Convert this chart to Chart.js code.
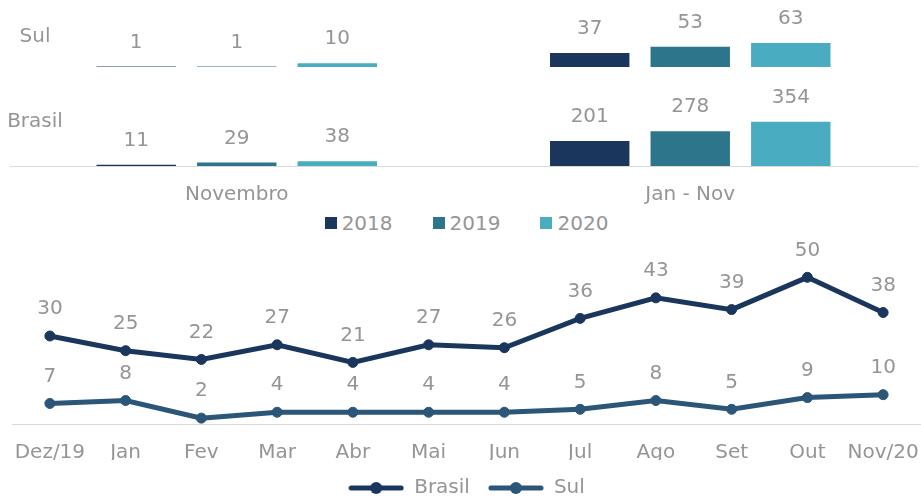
<!DOCTYPE html>
<html lang="pt-BR">
<head>
<meta charset="utf-8">
<title>Sul x Brasil</title>
<script src="https://cdn.jsdelivr.net/npm/chart.js@4.4.1/dist/chart.umd.min.js"></script>
<style>
  html, body { margin: 0; padding: 0; background: #fff; overflow: hidden; }
  body { position: relative; width: 921px; height: 497px; font-family: 'DejaVu Sans', sans-serif; }
  #bars  { position: absolute; left: 0; top: 0; }
  #line  { position: absolute; left: 0; top: 240px; }
  #bar-legend {
    position: absolute; left: 6px; top: 211px; width: 921px; height: 24px;
    display: flex; justify-content: center; align-items: center; gap: 40px;
    color: #959595; font-size: 20px;
  }
  #bar-legend span.item { display: flex; align-items: center; gap: 5px; }
  #bar-legend span.sw { display: inline-block; width: 12px; height: 12px; }
</style>
</head>
<body>
<canvas id="bars" width="921" height="205"></canvas>
<div id="bar-legend"></div>
<canvas id="line" width="921" height="268"></canvas>

<script>
/* ── Data ─────────────────────────────────────────────────────────────── */

var periods    = ['Novembro', 'Jan - Nov'];
var years      = ['2018', '2019', '2020'];
var yearColors = ['#1b365d', '#2c758a', '#49acc1'];

// values per year: [Novembro, Jan - Nov]
var sul2018    = [1, 37];
var sul2019    = [1, 53];
var sul2020    = [10, 63];
var brasil2018 = [11, 201];
var brasil2019 = [29, 278];
var brasil2020 = [38, 354];

var months         = ['Dez/19', 'Jan', 'Fev', 'Mar', 'Abr', 'Mai', 'Jun', 'Jul', 'Ago', 'Set', 'Out', 'Nov/20'];
var brasilMonthly  = [30, 25, 22, 27, 21, 27, 26, 36, 43, 39, 50, 38];
var sulMonthly     = [7, 8, 2, 4, 4, 4, 4, 5, 8, 5, 9, 10];

/* ── Shared look ──────────────────────────────────────────────────────── */

var TEXT  = '#959595';
var FONT  = { family: "'DejaVu Sans', sans-serif", size: 20 };
var AXIS  = '#d9d9d9';

Chart.defaults.font.family = FONT.family;
Chart.defaults.color = TEXT;

// Value labels drawn above every bar / point
var valueLabels = {
  id: 'valueLabels',
  afterDatasetsDraw: function (chart, args, opts) {
    var ctx = chart.ctx;
    ctx.save();
    ctx.font = FONT.size + 'px ' + FONT.family;
    ctx.fillStyle = TEXT;
    ctx.textAlign = 'center';
    ctx.textBaseline = 'middle';
    chart.data.datasets.forEach(function (ds, i) {
      var meta = chart.getDatasetMeta(i);
      if (meta.hidden) return;
      meta.data.forEach(function (el, j) {
        ctx.fillText(String(ds.data[j]), el.x, el.y - opts.offset);
      });
    });
    ctx.restore();
  }
};

// "Sul" / "Brasil" row captions beside the stacked value axes
var rowLabels = {
  id: 'rowLabels',
  afterDraw: function (chart) {
    var ctx = chart.ctx;
    ctx.save();
    ctx.font = FONT.size + 'px ' + FONT.family;
    ctx.fillStyle = TEXT;
    ctx.textAlign = 'center';
    ctx.textBaseline = 'middle';
    [['ySul', 'Sul'], ['yBrasil', 'Brasil']].forEach(function (r) {
      var s = chart.scales[r[0]];
      ctx.fillText(r[1], 35, s.top + (s.bottom - s.top) * 0.55);
    });
    ctx.restore();
  }
};

/* ── Top: Novembro / Jan - Nov bars ───────────────────────────────────── */

function barSet(idx, data, axis) {
  return {
    label: years[idx],
    data: data,
    yAxisID: axis,
    stack: 'g' + years[idx],
    backgroundColor: yearColors[idx],
    categoryPercentage: 0.665,
    barPercentage: 0.79
  };
}

new Chart(document.getElementById('bars'), {
  type: 'bar',
  data: {
    labels: periods,
    datasets: [
      barSet(0, sul2018, 'ySul'),
      barSet(1, sul2019, 'ySul'),
      barSet(2, sul2020, 'ySul'),
      barSet(0, brasil2018, 'yBrasil'),
      barSet(1, brasil2019, 'yBrasil'),
      barSet(2, brasil2020, 'yBrasil')
    ]
  },
  options: {
    responsive: false,
    animation: false,
    layout: { autoPadding: false, padding: { left: 10, right: 4, top: 0, bottom: 0 } },
    plugins: {
      legend: { display: false },
      tooltip: { enabled: false },
      valueLabels: { offset: 24 }
    },
    scales: {
      x: {
        grid: { display: false, drawTicks: false },
        border: { color: AXIS, width: 1 },
        ticks: { color: TEXT, font: FONT, padding: 17, maxRotation: 0 },
        afterFit: function (scale) {
          scale.height = 39;
          scale.paddingLeft = 0;
          scale.paddingRight = 0;
        }
      },
      yBrasil: {
        position: 'left', stack: 'rows', stackWeight: 99,
        min: 0, max: 792, stacked: false, display: false
      },
      ySul: {
        position: 'left', stack: 'rows', stackWeight: 67,
        min: 0, max: 176, stacked: false, display: false
      }
    }
  },
  plugins: [valueLabels, rowLabels]
});

// Year legend for the bar panel
var legendEl = document.getElementById('bar-legend');
years.forEach(function (y, i) {
  legendEl.innerHTML +=
    '<span class="item"><span class="sw" style="background:' + yearColors[i] + '"></span>' + y + '</span>';
});

/* ── Bottom: monthly line chart ───────────────────────────────────────── */

var BRASIL_COLOR = '#1b365d';
var SUL_COLOR    = '#2b5677';

function legendMarker(color) {
  var c = document.createElement('canvas');
  c.width = 56; c.height = 14;
  var g = c.getContext('2d');
  g.strokeStyle = color; g.lineWidth = 5; g.lineCap = 'round';
  g.beginPath(); g.moveTo(3, 7); g.lineTo(53, 7); g.stroke();
  g.fillStyle = color;
  g.beginPath(); g.arc(28, 7, 6, 0, Math.PI * 2); g.fill();
  return c;
}

function lineSet(label, data, color) {
  return {
    label: label,
    data: data,
    borderColor: color,
    backgroundColor: color,
    pointBackgroundColor: color,
    pointBorderColor: color,
    borderWidth: 5,
    pointRadius: 5,
    pointBorderWidth: 1,
    tension: 0
  };
}

new Chart(document.getElementById('line'), {
  type: 'line',
  data: {
    labels: months,
    datasets: [
      lineSet('Brasil', brasilMonthly, BRASIL_COLOR),
      lineSet('Sul', sulMonthly, SUL_COLOR)
    ]
  },
  options: {
    responsive: false,
    animation: false,
    layout: { autoPadding: false, padding: { left: 12, right: 0, top: 8, bottom: 0 } },
    plugins: {
      tooltip: { enabled: false },
      valueLabels: { offset: 27 },
      legend: {
        position: 'bottom',
        labels: {
          color: TEXT,
          font: FONT,
          padding: 18,
          usePointStyle: true,
          pointStyleWidth: 56,
          boxHeight: 14,
          generateLabels: function (chart) {
            var items = Chart.defaults.plugins.legend.labels.generateLabels(chart);
            items.forEach(function (it, i) {
              it.pointStyle = legendMarker(chart.data.datasets[i].borderColor);
            });
            return items;
          }
        }
      }
    },
    scales: {
      x: {
        offset: true,
        grid: { display: false, drawTicks: false },
        border: { color: AXIS, width: 1 },
        ticks: { color: TEXT, font: FONT, padding: 17, maxRotation: 0, autoSkip: false },
        afterFit: function (scale) {
          scale.height = 36;
          scale.paddingLeft = 0;
          scale.paddingRight = 0;
        }
      },
      y: { display: false, min: 0, max: 60 }
    }
  },
  plugins: [valueLabels]
});
</script>
</body>
</html>
